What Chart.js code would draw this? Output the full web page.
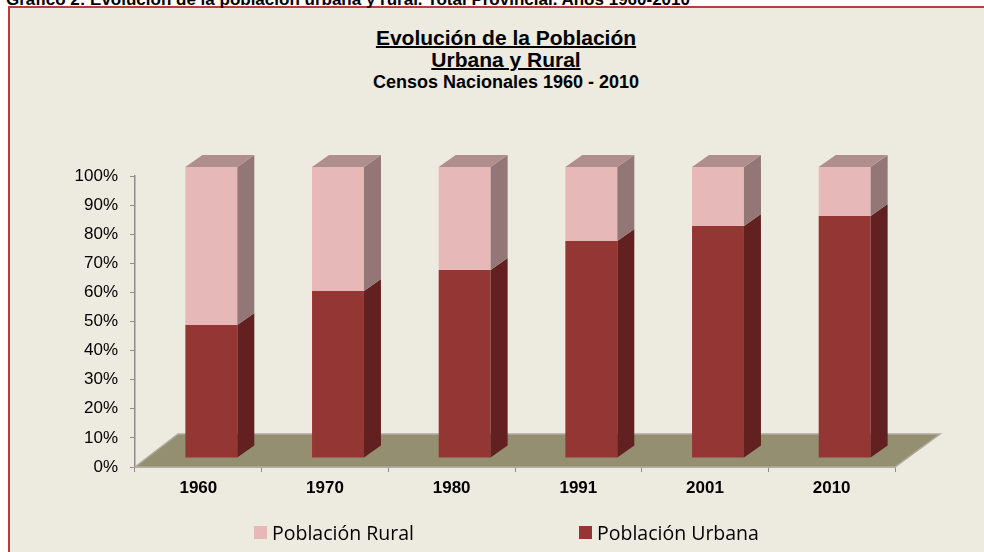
<!DOCTYPE html>
<html>
<head>
<meta charset="utf-8">
<script src="https://cdn.jsdelivr.net/npm/chart.js@4.4.1/dist/chart.umd.min.js"></script>
<style>
  html, body { margin: 0; padding: 0; width: 984px; height: 552px; overflow: hidden; background: #fff; }
  #header { position: absolute; left: 6px; top: -9px; font: bold 17px "Liberation Sans", Arial, sans-serif; line-height: 17px; color: #000; white-space: nowrap; z-index: 3; }
  #box { position: absolute; left: 8px; top: 6px; width: 992px; height: 560px; border: 2px solid #b4413f; background: #edeae0; }
  #titles { position: absolute; left: 0; top: 19px; width: 992px; text-align: center; font-family: "Liberation Sans", Arial, sans-serif; font-weight: bold; color: #000; }
  #titles .t1 { font-size: 21px; line-height: 22px; text-decoration: underline; text-decoration-thickness: 2px; }
  #titles .t2 { font-size: 18px; line-height: 22px; }
  #wrap { position: absolute; left: 0; top: 1px; width: 992px; height: 543px; }
  #legend { position: absolute; left: 244px; top: 511px; display: flex; font: 19.5px "Open Sans", sans-serif; color: #000; }
  #legend .item { width: 325px; display: flex; align-items: center; }
  #legend .sw { width: 13px; height: 13px; margin-right: 5px; }
</style>
</head>
<body>
<div id="header">Gráfico 2: Evolución de la población urbana y rural. Total Provincial. Años 1960-2010</div>
<div id="box">
  <div id="titles">
    <div class="t1">Evolución de la Población</div>
    <div class="t1">Urbana y Rural</div>
    <div class="t2">Censos Nacionales 1960 - 2010</div>
  </div>
  <div id="wrap"><canvas id="grafico"></canvas></div>
  <div id="legend"></div>
</div>
<script>
// censos
const anios = ['1960', '1970', '1980', '1991', '2001', '2010'];
const urbana = [45.7, 57.4, 64.6, 74.6, 79.7, 83.2];
const rural = [54.3, 42.6, 35.4, 25.4, 20.3, 16.8];
const yMax = 100;
const yPaso = 10;

// desplazamiento de la cara frontal y profundidad de las barras
const OFF_X = 13, OFF_Y = -9;
const PROF_X = 17, PROF_Y = -12;

const barras3d = {
  id: 'barras3d',
  beforeDatasetsDraw(chart) {
    const ctx = chart.ctx;
    const a = chart.chartArea;
    // piso
    ctx.save();
    ctx.beginPath();
    ctx.moveTo(a.left, a.bottom);
    ctx.lineTo(a.right, a.bottom);
    ctx.lineTo(a.right + 45, a.bottom - 33);
    ctx.lineTo(a.left + 43, a.bottom - 33);
    ctx.closePath();
    ctx.fillStyle = '#958f71';
    ctx.fill();
    ctx.strokeStyle = '#aeaba0';
    ctx.lineWidth = 1.5;
    ctx.stroke();
    ctx.restore();
    ctx.save();
    ctx.translate(OFF_X, OFF_Y);
  },
  afterDatasetsDraw(chart) {
    const ctx = chart.ctx;
    const n = chart.data.datasets.length;
    chart.data.datasets.forEach((ds, di) => {
      chart.getDatasetMeta(di).data.forEach(bar => {
        const l = bar.x - bar.width / 2;
        const r = bar.x + bar.width / 2;
        // lateral
        ctx.beginPath();
        ctx.moveTo(r, bar.y);
        ctx.lineTo(r + PROF_X, bar.y + PROF_Y);
        ctx.lineTo(r + PROF_X, bar.base + PROF_Y);
        ctx.lineTo(r, bar.base);
        ctx.closePath();
        ctx.fillStyle = ds.sideColor;
        ctx.fill();
        // tapa
        if (di === n - 1) {
          ctx.beginPath();
          ctx.moveTo(l, bar.y);
          ctx.lineTo(l + PROF_X, bar.y + PROF_Y);
          ctx.lineTo(r + PROF_X, bar.y + PROF_Y);
          ctx.lineTo(r, bar.y);
          ctx.closePath();
          ctx.fillStyle = ds.topColor;
          ctx.fill();
        }
      });
    });
    ctx.restore();
  }
};

const leyendaHtml = {
  id: 'leyendaHtml',
  afterUpdate(chart) {
    const cont = document.getElementById('legend');
    cont.innerHTML = '';
    chart.data.datasets.slice().reverse().forEach(ds => {
      const item = document.createElement('div');
      item.className = 'item';
      const sw = document.createElement('span');
      sw.className = 'sw';
      sw.style.background = ds.backgroundColor;
      const txt = document.createElement('span');
      txt.textContent = ds.label;
      item.appendChild(sw);
      item.appendChild(txt);
      cont.appendChild(item);
    });
  }
};

const canvas = document.getElementById('grafico');
canvas.width = 992;
canvas.height = 543;

new Chart(canvas, {
  type: 'bar',
  data: {
    labels: anios,
    datasets: [
      {
        label: 'Población Urbana',
        data: urbana,
        backgroundColor: '#943634',
        sideColor: '#622120',
        topColor: '#7a2e2c',
        clip: false
      },
      {
        label: 'Población Rural',
        data: rural,
        backgroundColor: '#e7b8b8',
        sideColor: '#937676',
        topColor: '#b08e8d',
        clip: false
      }
    ]
  },
  options: {
    responsive: false,
    animation: false,
    datasets: { bar: { categoryPercentage: 1, barPercentage: 0.41, borderWidth: 0 } },
    layout: { padding: { top: 167, right: 107, left: 0, bottom: 45 } },
    plugins: {
      legend: { display: false },
      title: { display: false },
      tooltip: { enabled: false }
    },
    scales: {
      x: {
        stacked: true,
        afterFit: s => { s.height = 40; },
        grid: { drawOnChartArea: false, tickLength: 5, color: '#8c8c8c', offset: true },
        border: { color: '#8c8c8c', width: 1.5 },
        ticks: { color: '#000', padding: 6, font: { family: 'Liberation Sans', size: 17, weight: 'bold' } }
      },
      y: {
        stacked: true,
        min: 0,
        max: yMax,
        afterFit: s => { s.width = 125; },
        grid: { drawOnChartArea: false, tickLength: 5, color: '#8c8c8c' },
        border: { color: '#8c8c8c', width: 1.5 },
        ticks: {
          stepSize: yPaso,
          color: '#000',
          padding: 12,
          font: { family: 'Liberation Sans', size: 17 },
          callback: v => v + '%'
        }
      }
    }
  },
  plugins: [barras3d, leyendaHtml]
});
</script>
</body>
</html>
